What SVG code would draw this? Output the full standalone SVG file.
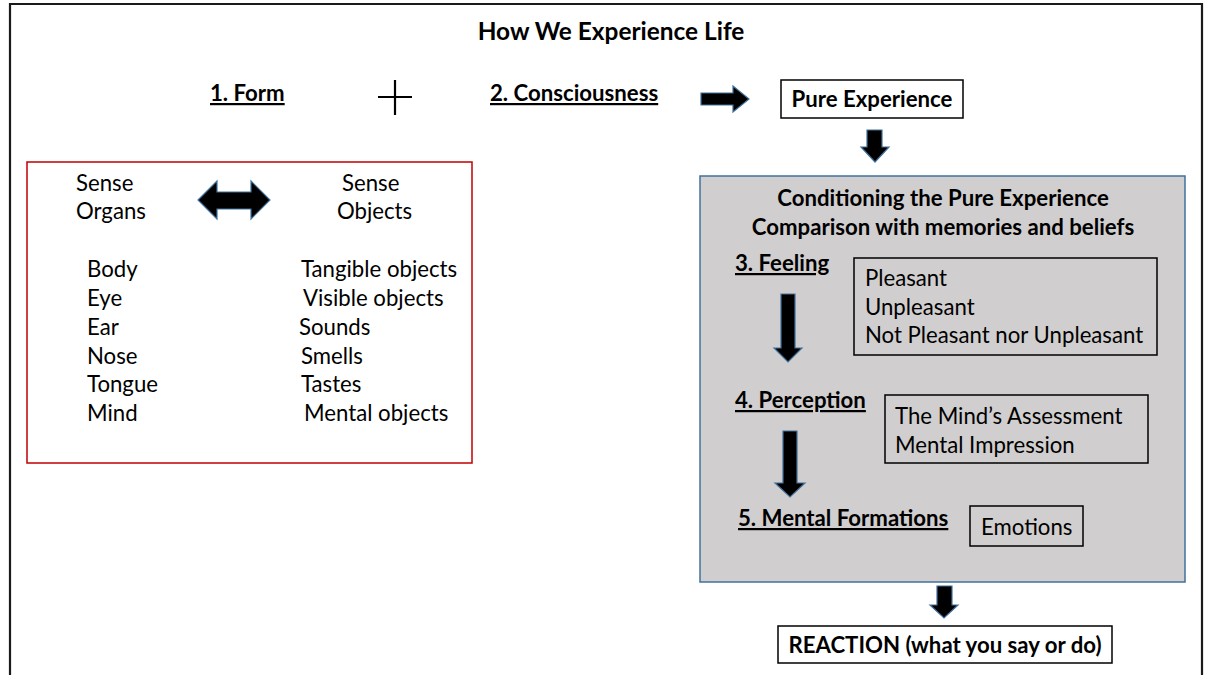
<svg xmlns="http://www.w3.org/2000/svg" width="1205" height="675" viewBox="0 0 1205 675">
<style>
text{font-family:Lato,"Open Sans","Liberation Sans",sans-serif;fill:#000;font-size:22.2px}
.b{font-weight:bold}
.u{text-decoration:underline}
.t{font-size:24.4px}
.box{fill:#fff;stroke:#000;stroke-width:1.5}
.ibox{fill:none;stroke:#000;stroke-width:1.5}
.arr{fill:#000;stroke:#41719c;stroke-width:1.2;stroke-linejoin:miter}
</style>
<rect x="0" y="0" width="1205" height="675" fill="#fff"/>
<path d="M10,675 V4 H1202 V675" fill="none" stroke="#1a1a1a" stroke-width="2.2"/>
<g id="title"><text class="b t" x="611" y="40" text-anchor="middle">How We Experience Life</text></g>
<g id="form"><text class="b u" x="210" y="101">1. Form</text></g>
<g id="plus"><path d="M378,97 H412 M395,80 V115" stroke="#000" stroke-width="2.2" fill="none"/></g>
<g id="consciousness"><text class="b u" x="490" y="101">2. Consciousness</text></g>
<g id="pure"><rect class="box" x="781" y="80" width="182" height="38"/><text class="b" x="872" y="107" text-anchor="middle">Pure Experience</text></g>
<g id="senses">
<rect x="27" y="162" width="445" height="301" fill="#fff" stroke="#c00000" stroke-width="1.5"/>
<text x="76" y="191">Sense</text><text x="76" y="219">Organs</text>
<text x="342" y="191">Sense</text><text x="337" y="219">Objects</text>
<text x="87" y="277">Body</text><text x="87" y="306">Eye</text><text x="87" y="335">Ear</text><text x="87" y="364">Nose</text><text x="87" y="392">Tongue</text><text x="87" y="421">Mind</text>
<text x="301" y="277">Tangible objects</text><text x="303" y="306">Visible objects</text><text x="299" y="335">Sounds</text><text x="301" y="364">Smells</text><text x="301" y="392">Tastes</text><text x="304" y="421">Mental objects</text>
</g>
<g id="conditioning">
<rect x="700" y="176" width="485" height="406" fill="#d0cece" stroke="#41719c" stroke-width="1.5"/>
<text class="b" x="943" y="206" text-anchor="middle">Conditioning the Pure Experience</text>
<text class="b" x="943" y="235" text-anchor="middle">Comparison with memories and beliefs</text>
</g>
<g id="feeling"><text class="b u" x="735" y="271">3. Feeling</text></g>
<g id="feelings-box"><rect class="ibox" x="854" y="258" width="303" height="97"/><text x="865" y="286">Pleasant</text><text x="865" y="315">Unpleasant</text><text x="865" y="343">Not Pleasant nor Unpleasant</text></g>
<g id="perception"><text class="b u" x="735" y="408">4. Perception</text></g>
<g id="perception-box"><rect class="ibox" x="885" y="395" width="263" height="68"/><text x="895" y="424">The Mind’s Assessment</text><text x="895" y="453">Mental Impression</text></g>
<g id="formations"><text class="b u" x="738" y="526">5. Mental Formations</text></g>
<g id="emotions"><rect class="ibox" x="970" y="506" width="113" height="40"/><text x="981" y="535">Emotions</text></g>
<g id="reaction"><rect class="box" x="778" y="626" width="334" height="37"/><text class="b" x="945" y="653" text-anchor="middle">REACTION (what you say or do)</text></g>
<g id="connectors">
<path class="arr" d="M701,93 H733 V86 L749,99 L733,112 V105 H701 Z"/>
<path class="arr" d="M867,130 H882 V147 H889 L875,162 L861,147 H867 Z"/>
<path class="arr" d="M198,200 L217,181 V192 H251 V181 L270,200 L251,219 V209 H217 V219 Z"/>
<path class="arr" d="M781,294 H795 V348 H802 L788,362 L774,348 H781 Z"/>
<path class="arr" d="M783,431 H797 V483 H805 L790,497 L775,483 H783 Z"/>
<path class="arr" d="M937,586 H952 V605 H958 L944,618 L930,605 H937 Z"/>
</g>
</svg>
